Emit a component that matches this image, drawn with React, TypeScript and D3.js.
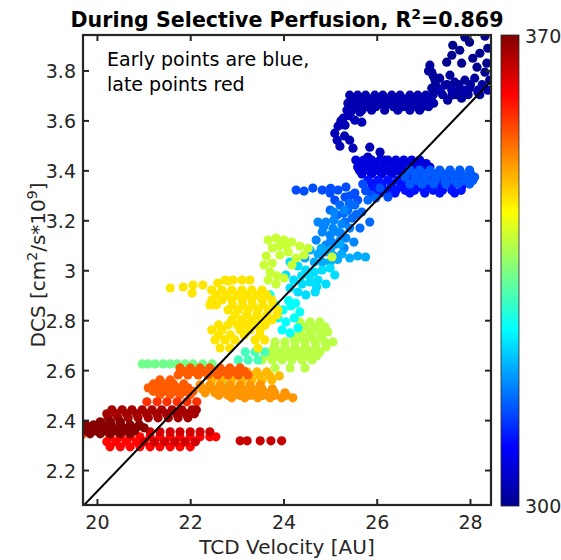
import React from "react";
import * as d3 from "d3";

type Pt = [number, number];
const row = (y: number, xs: number[]): Pt[] => xs.map((x) => [x, y] as Pt);

// ---- axis limits & ticks ----
const XMIN = 19.69, XMAX = 28.44;
const YMIN = 2.062, YMAX = 3.944;
const xTicks = [20, 22, 24, 26, 28];
const xTickLabels = ["20", "22", "24", "26", "28"];
const yTicks = [2.2, 2.4, 2.6, 2.8, 3.0, 3.2, 3.4, 3.6, 3.8];
const yTickLabels = ["2.2", "2.4", "2.6", "2.8", "3", "3.2", "3.4", "3.6", "3.8"];
const cLimits = [300, 370];

// ---- regression line ----
const fitSlope = 0.1945;
const fitIntercept = -1.7726;

// ---- data clusters (TCD velocity, DCS) with time value ----
const navyTop: Pt[] = [[27.88,3.935],[27.98,3.915],[28.31,3.939],[27.62,3.903],[27.60,3.863],[27.77,3.883],[28.05,3.851],[28.20,3.871],[28.37,3.891],[27.49,3.835],[27.81,3.831],[28.14,3.815],[28.35,3.831],[28.41,3.763],[28.31,3.795]];
const navyKnot: Pt[] = [[27.13,3.823],[27.17,3.795],[27.24,3.763],[27.34,3.771],[27.45,3.743],[27.56,3.783],[27.66,3.755],[27.77,3.723],[27.88,3.763],[27.98,3.731],[28.09,3.771],[28.16,3.715],[27.34,3.723],[27.17,3.731],[27.60,3.703],[27.81,3.691],[27.51,3.683],[27.1,3.8],[27.2,3.78],
  ...row(3.705, [27.2,27.4,27.7,27.95,28.2]),
  ...row(3.745, [27.25,27.5,27.75,28.0,28.25]),
];
const navyBand: Pt[] = [
  ...row(3.703, [25.41,25.58,25.75,25.95,26.12,26.31,26.49,26.70,26.87,27.04]),
  ...row(3.687, [25.46,25.64,25.82,26.0,26.19,26.38,26.57,26.76,26.95,27.12]),
  ...row(3.671, [25.37,25.54,25.71,25.88,26.06,26.27,26.44,26.62,26.81,27.00,27.21]),
  ...row(3.657, [25.42,25.6,25.78,25.97,26.16,26.35,26.55,26.76,26.97,27.1]),
  ...row(3.643, [25.46,25.67,25.88,26.16,26.44,26.70,26.91]),
  ...row(3.723, [27.34,27.60,27.88,28.16,28.37]),
];
const navyArm: Pt[] = [[25.35,3.643],[25.27,3.611],[25.16,3.579],[25.09,3.551],[25.14,3.523],[25.20,3.499],[25.41,3.523],[25.48,3.491],[25.31,3.583],[25.52,3.603],[25.63,3.635],[25.67,3.595],[25.84,3.495],[26.06,3.475],[25.80,3.455],[25.63,3.435],[26.16,3.443],[25.95,3.431],[25.42,3.62],[25.22,3.6],[25.3,3.54]];
const blueTop: Pt[] = [
  ...row(3.443, [25.54,25.71,25.88,26.06,26.23,26.40,26.57,26.74,26.91]),
  ...row(3.429, [25.62,25.8,25.98,26.16,26.34,26.52,26.7,26.88,27.05]),
  ...row(3.415, [25.58,25.78,25.97,26.16,26.36,26.55,26.74,26.94,27.13]),
  ...row(3.401, [25.62,25.82,26.02,26.22,26.42,26.62,26.82,27.02]),
  ...row(3.387, [25.67,25.88,26.10,26.31,26.53,26.74,26.96]),
];
const blueMid: Pt[] = [
  ...row(3.363, [25.80,26.02,26.23,26.44,26.66,26.87,27.09,27.30,27.51,27.73]),
  ...row(3.349, [25.9,26.1,26.3,26.5,26.7,26.9,27.1,27.3,27.5,27.7]),
  ...row(3.335, [25.88,26.10,26.31,26.53,26.74,26.96,27.17,27.38,27.60,27.81]),
  ...row(3.322, [26.0,26.2,26.4,26.6,26.8,27.0,27.2,27.4,27.6,27.8]),
  ...row(3.311, [26.06,26.38,26.70,27.02,27.34,27.66]),
];
const blueLight: Pt[] = [
  ...row(3.403, [26.70,26.91,27.13,27.34,27.56,27.77,27.98]),
  ...row(3.389, [26.8,27.0,27.2,27.4,27.6,27.8,28.0]),
  ...row(3.375, [26.60,26.81,27.02,27.24,27.45,27.66,27.88,28.09]),
  ...row(3.361, [26.85,27.05,27.25,27.45,27.65,27.85,28.05]),
  ...row(3.347, [26.70,26.96,27.21,27.47,27.73,27.98]),
];
const blueRow: Pt[] = [[24.26,3.323],[24.43,3.319],[24.62,3.331],[24.82,3.323],[24.99,3.311],[25.16,3.323],[25.33,3.335],[25.52,3.311],[25.69,3.347],[25.88,3.303],[26.06,3.331],[26.23,3.295],[25.31,3.295],[25.09,3.283],[25.58,3.283],[25.42,3.3],[25.75,3.32],[25.0,3.33]];
const blueStrand: Pt[] = [[25.20,3.263],[25.37,3.243],[25.52,3.263],[25.67,3.235],[25.46,3.211],[25.31,3.195],[25.14,3.223],[24.99,3.243],[25.80,3.283],[25.97,3.291],[25.84,3.195],[25.63,3.171],[25.28,3.23],[25.55,3.225],[25.4,3.27]];
const azure: Pt[] = [[24.73,3.195],[24.90,3.195],[25.07,3.203],[25.24,3.187],[25.41,3.171],[24.82,3.155],[24.99,3.143],[25.16,3.155],[25.33,3.131],[25.50,3.115],[24.69,3.123],[24.90,3.103],[25.11,3.107],[25.29,3.091],[25.07,3.235],[25.29,3.243],[24.85,3.175],[25.05,3.17],[25.22,3.15],[25.0,3.12],[25.2,3.12]];
const skyBlue: Pt[] = [[24.56,3.083],[24.73,3.067],[24.90,3.075],[25.07,3.059],[25.24,3.067],[25.41,3.051],[25.58,3.059],[25.75,3.055],[24.82,3.035],[24.99,3.035],[24.65,3.035],[25.20,3.107],[24.45,3.051],[24.8,3.09],[25.0,3.085],[25.15,3.045]];
const cyanBlue: Pt[] = [[24.13,3.035],[24.30,3.019],[24.47,3.003],[24.65,2.995],[24.82,3.003],[24.99,3.011],[24.04,2.983],[24.21,2.963],[24.39,2.947],[24.56,2.955],[24.73,2.963],[24.90,2.947],[24.30,2.915],[24.47,2.903],[24.13,2.931],[25.09,2.983],[24.67,2.915],[24.38,2.98],[24.55,2.98],[24.7,2.935]];
const cyan: Pt[] = [[23.81,2.863],[23.98,2.843],[24.15,2.859],[23.87,2.811],[24.04,2.795],[24.22,2.811],[23.96,2.763],[24.13,2.751],[24.30,2.771],[24.34,2.835],[23.70,2.903],[24.1,2.88],[24.25,2.87]];
const aqua: Pt[] = [...row(2.675, [23.17,23.38,23.59]), ...row(2.643, [23.02,23.23,23.44]), [22.59,2.531],[22.76,2.543]];
const mintStrip: Pt[] = row(2.627, [20.96,21.09,21.24,21.41,21.56,21.71,21.88,22.05,22.26,22.46]);
const greenYellow: Pt[] = [
  ...row(2.795, [24.34,24.56,24.77]),
  ...row(2.775, [24.45,24.67,24.88]),
  ...row(2.755, [24.34,24.56,24.77,24.94]),
  ...row(2.735, [24.2,24.4,24.6,24.8]),
  ...row(2.715, [23.81,24.02,24.24,24.45,24.67,24.88,25.05]),
  ...row(2.695, [23.8,24.02,24.24,24.46,24.68,24.9]),
  ...row(2.675, [23.70,23.91,24.13,24.34,24.56,24.77]),
  ...row(2.659, [23.6,23.85,24.05,24.28,24.5,24.7]),
  ...row(2.643, [23.53,23.75,23.96,24.17,24.39,24.60]),
  ...row(2.611, [23.81,24.13,24.45]),
];
const limeTop: Pt[] = [[23.66,3.123],[23.83,3.131],[24.00,3.123],[24.17,3.115],[24.34,3.099],[23.75,3.091],[23.62,3.059],[23.57,3.023],[23.70,2.995],[23.91,3.063],[24.09,3.075],[24.26,3.051],[24.43,3.063],[23.66,2.963],[23.83,2.947],[24.00,2.971],[24.17,3.023],[23.9,3.1],[24.05,3.1],[23.75,3.03],[23.85,2.98],[24.52,3.09],[25.03,3.055]];
const yellow: Pt[] = [
  [21.56,2.931],[21.84,2.935],[22.05,2.943],[22.26,2.943],[22.58,2.951],[22.45,2.923],[22.03,2.911],[22.80,2.959],[22.41,2.863],
  ...row(2.963, [22.74,22.91,23.10,23.27]),
  ...row(2.923, [22.67,22.88,23.10,23.31,23.53]),
  ...row(2.903, [22.55,22.77,23.0,23.2,23.42,23.63]),
  ...row(2.883, [22.45,22.67,22.88,23.10,23.31,23.53,23.74]),
  ...row(2.863, [22.55,22.9,23.12,23.33,23.55,23.77]),
  ...row(2.843, [22.80,23.02,23.23,23.44,23.66,23.87]),
  ...row(2.823, [22.95,23.2,23.42,23.63,23.85]),
  ...row(2.803, [22.88,23.10,23.31,23.53,23.74]),
  ...row(2.783, [22.6,22.8,23.0,23.2,23.4,23.6]),
  ...row(2.763, [22.45,22.67,23.06,23.27,23.49]),
  ...row(2.743, [22.6,22.85,23.15,23.48]),
  ...row(2.723, [22.52,22.74,22.95,23.38,23.59]),
  ...row(2.691, [22.63,22.84,23.44]),
];
const lightOrange: Pt[] = [
  ...row(2.595, [22.35,22.57,22.78,22.99,23.21,23.42,23.63]),
  ...row(2.579, [22.4,22.62,22.84,23.05,23.26,23.48,23.7,23.9]),
  ...row(2.563, [22.46,22.67,22.88,23.10,23.31,23.53,23.74]),
];
const amber: Pt[] = [
  ...row(2.543, [22.20,22.41,22.63,22.84,23.06,23.27,23.49]),
  ...row(2.527, [22.25,22.47,22.68,22.9,23.1,23.32,23.53,23.75]),
  ...row(2.511, [22.31,22.52,22.73,22.95,23.16,23.38,23.59,23.80,24.02]),
  ...row(2.501, [22.6,22.8,23.05,23.3,23.55,23.8,24.05]),
  ...row(2.491, [22.88,23.16,23.44,23.70,23.95,24.19]),
];
const orange: Pt[] = [
  ...row(2.611, [21.77,21.99,22.20,22.41,22.63,22.84,23.06]),
  ...row(2.597, [21.85,22.05,22.27,22.5,22.72,22.95,23.15]),
  ...row(2.583, [21.73,21.94,22.16,22.37,22.58,22.80,23.02,23.23]),
  ...row(2.563, [21.34,21.56]),
  ...row(2.547, [21.2,21.42,21.63,21.85]),
  ...row(2.531, [21.09,21.30,21.52,21.73,21.94]),
  ...row(2.517, [21.2,21.42,21.65,21.87,22.05]),
  ...row(2.503, [21.34,21.56,21.77,21.99]),
  [19.67,2.343],
];
const redOrange: Pt[] = row(2.475, [21.06,21.28,21.49,21.71,21.92,22.13]);
const brightRed: Pt[] = [
  ...row(2.335, [20.27,20.49,20.70,20.91,21.13,21.34,21.56,21.77,21.99,22.20,22.41,22.54]),
  ...row(2.315, [20.2,20.4,20.62,20.84]),
  ...row(2.295, [20.27,20.49,20.70,20.91,21.13,21.34,21.56,21.77,21.99]),
];
const crimson: Pt[] = [
  ...row(2.355, [21.13,21.34,21.56,21.77,21.99,22.20,22.41]),
  ...row(2.315, [21.00,21.22,21.44,21.66,21.88,22.10]),
];
const crimsonDots: Pt[] = row(2.319, [23.06,23.21,23.49,23.72,23.95]);
const darkRed: Pt[] = [
  ...row(2.443, [20.31,20.53,20.74,20.96,21.17,21.38,21.60,21.81,22.03,22.12]),
  ...row(2.427, [20.2,20.4,20.62,20.84,21.05,21.27,21.48,21.7,21.9,22.08]),
  ...row(2.411, [20.23,20.44,20.66,20.87,21.09,21.30,21.52,21.73,21.94]),
];
const maroon: Pt[] = [
  ...row(2.395, [20.06,20.27,20.49]),
  ...row(2.383, [19.75,19.92,20.1,20.3,20.5,20.7,20.9]),
  ...row(2.371, [19.80,19.97,20.14,20.31,20.49,20.66,20.83,21.00]),
  ...row(2.359, [19.75,19.95,20.15,20.38,20.6,20.8]),
  ...row(2.347, [19.84,20.06,20.27,20.49,20.70]),
];

const clusters: { t: number; pts: Pt[] }[] = [
  { t: 300, pts: navyTop }, { t: 301, pts: navyKnot }, { t: 302.5, pts: navyBand },
  { t: 303, pts: navyArm }, { t: 306, pts: blueTop }, { t: 310, pts: blueMid },
  { t: 314, pts: blueRow }, { t: 315, pts: blueLight }, { t: 316, pts: blueStrand },
  { t: 318, pts: azure }, { t: 320.5, pts: skyBlue }, { t: 324, pts: cyanBlue },
  { t: 339, pts: greenYellow }, { t: 326.5, pts: cyan }, { t: 331, pts: aqua },
  { t: 334, pts: mintStrip }, { t: 340, pts: limeTop }, { t: 345.5, pts: yellow },
  { t: 348.5, pts: lightOrange }, { t: 351, pts: amber }, { t: 355, pts: orange },
  { t: 358, pts: redOrange }, { t: 361, pts: brightRed }, { t: 364.5, pts: crimson },
  { t: 365, pts: crimsonDots }, { t: 367.5, pts: darkRed }, { t: 369.5, pts: maroon },
];

const jetColors = ["#00008f", "#0000ff", "#00ffff", "#ffff00", "#ff0000", "#800000"];
const jetPos = [0, 0.125, 0.375, 0.625, 0.875, 1];

const FONT = "DejaVu Sans, sans-serif";
const INK = "#262626";

export default function App() {
  const L = 83, R = 491, T = 35, B = 505;
  const x = d3.scaleLinear().domain([XMIN, XMAX]).range([L, R]);
  const y = d3.scaleLinear().domain([YMIN, YMAX]).range([B, T]);
  const color = d3
    .scaleLinear<string>()
    .domain(jetPos.map((p) => cLimits[0] + p * (cLimits[1] - cLimits[0])))
    .range(jetColors)
    .clamp(true);

  // drawn in the listed (trajectory) order
  const pts = clusters.flatMap((c) => c.pts.map((p) => ({ x: p[0], y: p[1], t: c.t })));

  const line = d3.line<number>().x((v) => x(v)).y((v) => y(fitIntercept + fitSlope * v));
  const cbX = 501, cbW = 18, cbT = 35, cbB = 506;

  return (
    <svg width={561} height={560} style={{ position: "absolute", left: 0, top: 0, background: "#fff" }} fontFamily={FONT}>
      <defs>
        <clipPath id="plotClip">
          <rect x={L} y={T} width={R - L} height={B - T} />
        </clipPath>
        <linearGradient id="jet" x1="0" y1="1" x2="0" y2="0">
          {jetPos.map((p, i) => (
            <stop key={i} offset={p} stopColor={jetColors[i]} />
          ))}
        </linearGradient>
      </defs>
      <rect x={0} y={0} width={561} height={560} fill="#fff" />
      <g clipPath="url(#plotClip)">
        {pts.map((p, i) => (
          <circle key={i} cx={x(p.x)} cy={y(p.y)} r={4.6} fill={color(p.t)} />
        ))}
        <path d={line([XMIN, XMAX]) || ""} stroke="#000" strokeWidth={2} fill="none" />
      </g>
      <rect x={L} y={T} width={R - L} height={B - T} fill="none" stroke={INK} strokeWidth={2.2} />
      {xTicks.map((v, i) => (
        <g key={"xt" + i}>
          <line x1={x(v)} x2={x(v)} y1={B} y2={B - 6} stroke={INK} strokeWidth={2} />
          <line x1={x(v)} x2={x(v)} y1={T} y2={T + 6} stroke={INK} strokeWidth={2} />
          <text x={x(v)} y={529} textAnchor="middle" fontSize={19} fill={INK}>{xTickLabels[i]}</text>
        </g>
      ))}
      {yTicks.map((v, i) => (
        <g key={"yt" + i}>
          <line x1={L} x2={L + 6} y1={y(v)} y2={y(v)} stroke={INK} strokeWidth={2} />
          <line x1={R} x2={R - 6} y1={y(v)} y2={y(v)} stroke={INK} strokeWidth={2} />
          <text x={76} y={y(v) + 7} textAnchor="end" fontSize={19} fill={INK}>{yTickLabels[i]}</text>
        </g>
      ))}
      <text x={(L + R) / 2} y={554} textAnchor="middle" fontSize={20} fill={INK}>TCD Velocity [AU]</text>
      <text transform={`translate(45,265) rotate(-90)`} textAnchor="middle" fontSize={20} fill={INK}>
        DCS [cm<tspan dy={-8} fontSize={14}>2</tspan><tspan dy={8}>/s*10</tspan><tspan dy={-8} fontSize={14}>9</tspan><tspan dy={8}>]</tspan>
      </text>
      <text x={(L + R) / 2} y={27} textAnchor="middle" fontSize={20.6} fontWeight="bold" fill="#000">
        During Selective Perfusion, R<tspan dy={-8} fontSize={14}>2</tspan><tspan dy={8}>=0.869</tspan>
      </text>
      <text x={107} y={66} fontSize={19} fill="#000">Early points are blue,</text>
      <text x={107} y={91} fontSize={19} fill="#000">late points red</text>
      <rect x={cbX} y={cbT} width={cbW} height={cbB - cbT} fill="url(#jet)" stroke={INK} strokeWidth={0.8} />
      <text x={525} y={43} fontSize={19} fill={INK}>{cLimits[1]}</text>
      <text x={525} y={513} fontSize={19} fill={INK}>{cLimits[0]}</text>
    </svg>
  );
}
